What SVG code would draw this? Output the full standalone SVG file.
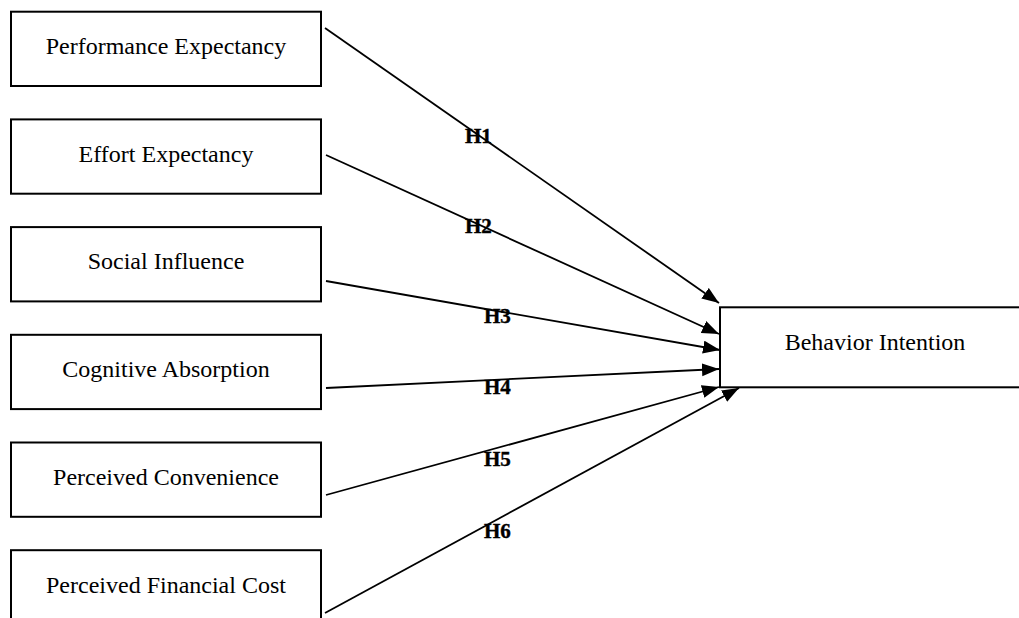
<svg xmlns="http://www.w3.org/2000/svg" width="1019" height="618" viewBox="0 0 1019 618">
<style>
.box{fill:#fff;stroke:#000;stroke-width:2}
.lbl{font-family:"Liberation Serif","Times New Roman",serif;font-size:24px;fill:#000;text-anchor:middle}
.h{font-family:"Liberation Serif","Times New Roman",serif;font-size:21px;font-weight:bold;fill:#000;stroke:#000;stroke-width:0.4}
.c{stroke:#000;stroke-width:1.8;fill:none;marker-end:url(#ah)}
</style>
<defs>
<marker id="ah" markerUnits="userSpaceOnUse" markerWidth="18" markerHeight="14" refX="17" refY="6.5" orient="auto">
<path d="M0,0 L17,6.5 L0,13 z" fill="#000"/>
</marker>
</defs>
<rect width="1019" height="618" fill="#fff"/>
<g id="connectors">
<line class="c" x1="325" y1="28" x2="719" y2="303"/>
<line class="c" x1="326" y1="155" x2="719" y2="334"/>
<line class="c" x1="326" y1="281" x2="720" y2="350"/>
<line class="c" x1="326" y1="388" x2="719" y2="369"/>
<line class="c" x1="326" y1="495" x2="719" y2="387"/>
<line class="c" x1="325" y1="613" x2="739" y2="388"/>
</g>
<g id="labels">
<text class="h" x="465" y="143">H1</text>
<text class="h" x="465" y="233">H2</text>
<text class="h" x="484" y="323">H3</text>
<text class="h" x="484" y="394">H4</text>
<text class="h" x="484" y="466">H5</text>
<text class="h" x="484" y="538">H6</text>
</g>
<g id="n1"><rect class="box" x="11" y="11.7" width="310" height="74.3"/><text class="lbl" x="166" y="54">Performance Expectancy</text></g>
<g id="n2"><rect class="box" x="11" y="119.4" width="310" height="74.3"/><text class="lbl" x="166" y="161.7">Effort Expectancy</text></g>
<g id="n3"><rect class="box" x="11" y="227.1" width="310" height="74.3"/><text class="lbl" x="166" y="269.4">Social Influence</text></g>
<g id="n4"><rect class="box" x="11" y="334.8" width="310" height="74.3"/><text class="lbl" x="166" y="377.1">Cognitive Absorption</text></g>
<g id="n5"><rect class="box" x="11" y="442.5" width="310" height="74.3"/><text class="lbl" x="166" y="484.8">Perceived Convenience</text></g>
<g id="n6"><rect class="box" x="11" y="550.2" width="310" height="74.3"/><text class="lbl" x="166" y="593">Perceived Financial Cost</text></g>
<g id="n7"><rect class="box" x="720" y="307.3" width="310" height="80"/><text class="lbl" x="875" y="350">Behavior Intention</text></g>
</svg>
